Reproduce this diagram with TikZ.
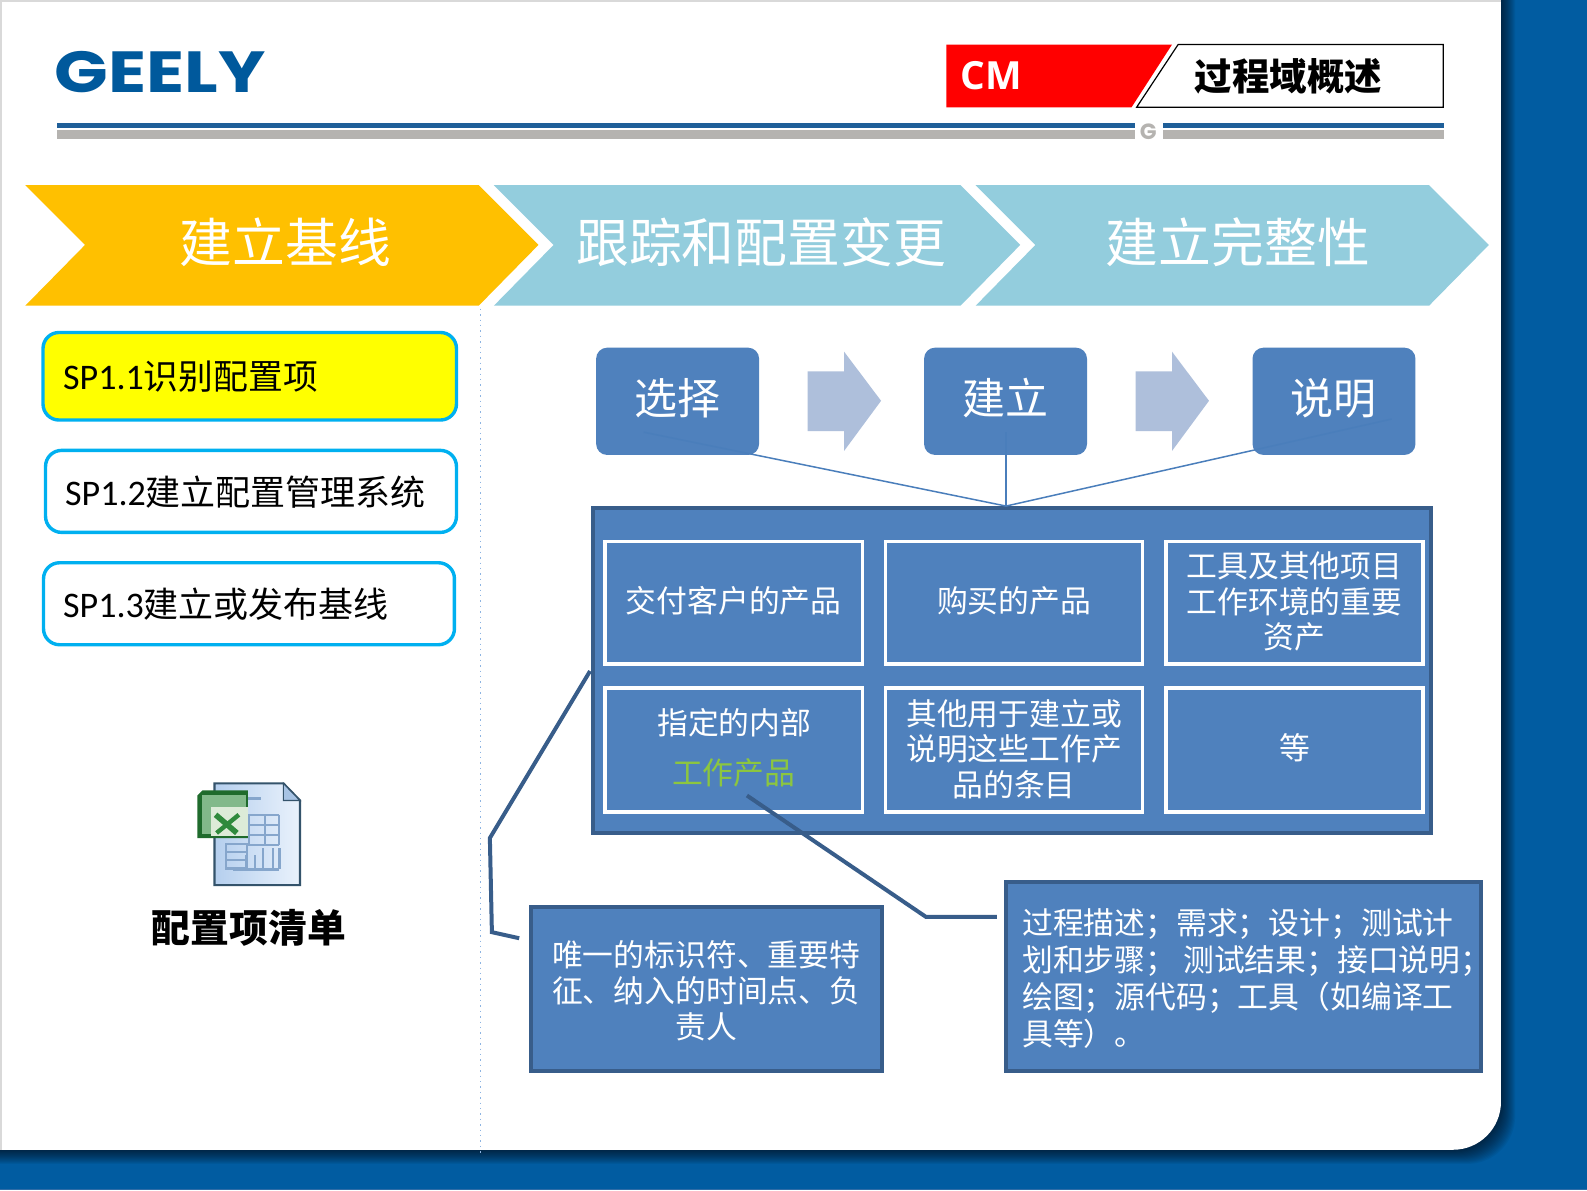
\documentclass[tikz,border=0pt]{standalone}
\usepackage{fontspec}
\setmainfont{Noto Sans CJK SC}
\newfontfamily\latinf{Carlito}
\newfontfamily\openf{Open Sans}
\newfontfamily\logof{Poppins}
\definecolor{bgblue}{HTML}{015CA1}
\definecolor{bgline}{HTML}{2F6CA6}
\definecolor{boxblue}{HTML}{4F81BD}
\definecolor{edgeblue}{HTML}{385D8A}
\definecolor{linkblue}{HTML}{4A7EBB}
\definecolor{chevblue}{HTML}{93CDDD}
\definecolor{chevgold}{HTML}{FFC000}
\definecolor{cyanedge}{HTML}{00B0F0}
\definecolor{greybar}{HTML}{B5B3B0}
\definecolor{rulebl}{HTML}{1F5F99}
\definecolor{logobl}{HTML}{00599C}
\definecolor{arrowbl}{HTML}{AEBFDB}
\definecolor{greentx}{HTML}{8CC63F}
\definecolor{frameg}{HTML}{D9D9D9}
\definecolor{dotbl}{HTML}{8DB4E2}
\definecolor{docedge}{HTML}{34536B}
\definecolor{docl}{HTML}{B5CFEE}
\definecolor{docr}{HTML}{EAF2FC}
\definecolor{gridbl}{HTML}{86A6CC}
\definecolor{xlgreen}{HTML}{2F8A3C}
\definecolor{xldark}{HTML}{1F6B2C}
\definecolor{xlpale}{HTML}{DDEBD8}
\definecolor{pureyellow}{HTML}{FFFF00}
\definecolor{purered}{HTML}{FF0000}
\newcommand\fz[2]{\fontsize{#1pt}{#2pt}\selectfont}
\newcommand\bx[7]{%
  \pgfmathsetmacro\bxw{(#4)-(#2)}\pgfmathsetmacro\bxh{(#5)-(#3)}%
  \pgfmathsetmacro\bxx{((#4)+(#2))/2}\pgfmathsetmacro\bxy{((#5)+(#3))/2}%
  \node[#6,minimum width=\bxw*0.506pt,minimum height=\bxh*0.506pt,inner sep=0pt,outer sep=0pt] (#1) at (\bxx,\bxy) {#7};}
\newcommand\lnl[1]{\makebox[221pt][l]{#1}}
\newcommand\upby[2]{\raisebox{#1}[\height][\depth]{#2}}
\tikzset{
  sptext/.style={anchor=west,inner sep=0pt,text=black},
  spbox/.style={draw=cyanedge,line width=1.7pt,rounded corners=8pt,fill=white},
  stepbox/.style={fill=boxblue,rounded corners=5.5pt,text=white,font=\fz{21.5}{26}},
  outerbox/.style={fill=boxblue,draw=edgeblue,line width=2pt},
  cellbox/.style={fill=boxblue,draw=white,line width=1.8pt,text=white,align=center,font=\fz{15.4}{17.9}},
  notebox/.style={fill=boxblue,draw=edgeblue,line width=2pt,text=white,align=center,font=\fz{15.4}{18.1}},
  calloutln/.style={draw=edgeblue,line width=2pt,line join=miter},
  linkln/.style={draw=linkblue,line width=.75pt},
  banner/.style={text=white,font=\fz{26.4}{30}},
  blockarrow/.style={fill=arrowbl},
}
\begin{document}
\begin{tikzpicture}[x=0.506pt,y=-0.506pt]
\useasboundingbox (0,0) rectangle (1568,1176);
% background
\fill[bgblue] (0,0) rectangle (1568,1176);
\fill[bgline] (0,1174.5) rectangle (1568,1176);
\begin{scope}
\clip (0,0) rectangle (1568,1176);
\foreach \i in {1,2,...,14}{
  \fill[black,opacity=.05,rounded corners=24pt] (-60,-60) rectangle (1483+\i,1136+\i);
}
\end{scope}
\fill[white,rounded corners=24pt] (-60,-60) rectangle (1483,1136);
\fill[frameg] (0,0) rectangle (1483,2);
\fill[frameg] (0,0) rectangle (1.5,1136);
% logo
\node[inner sep=0pt,text=logobl,font=\logof\bfseries\fz{29}{29},xscale=1.215] (logo) at (158.5,71.5) {GEELY};
% header rule
\fill[rulebl] (56,122) rectangle (1121,126);
\fill[greybar] (56,128) rectangle (1121,137);
\fill[rulebl] (1149,122) rectangle (1427,126);
\fill[greybar] (1149,128) rectangle (1427,137);
\node[inner sep=0pt,text=greybar,font=\logof\bfseries\fz{11}{11}] (glogo) at (1134.5,130) {G};
% title tab
\fill[purered] (935,44) -- (1158,44) -- (1118,106) -- (935,106) -- cycle;
\draw[black,line width=.6pt,fill=white] (1164,44) -- (1426,44) -- (1426,106) -- (1123,106) -- cycle;
\node[inner sep=0pt,text=white,font=\openf\bfseries\fz{19.4}{19}] (cm) at (979.5,75) {CM};
\node[inner sep=0pt,font=\bfseries\fz{18.7}{19}] (ttl) at (1273,75) {过程域概述};
% chevrons
\fill[chevgold] (25,183) -- (473,183) -- (532,242) -- (473,302) -- (25,302) -- (84,242) -- cycle;
\fill[chevblue] (488,183) -- (949,183) -- (1008,242) -- (949,302) -- (488,302) -- (547,242) -- cycle;
\fill[chevblue] (964,183) -- (1412,183) -- (1471,242) -- (1412,302) -- (964,302) -- (1023,242) -- cycle;
\node[banner] (b1) at (282,239) {建立基线};
\node[banner] (b2) at (752,239) {跟踪和配置变更};
\node[banner] (b3) at (1223,239) {建立完整性};
% divider
\coordinate (d1) at (475,305); \coordinate (d2) at (475,1140);
\draw[dotbl,line width=.7pt,dotted] (d1) -- (d2);
% left list
\bx{sp1}{42.5}{328.5}{451}{415}{spbox,fill=pureyellow}{}
\bx{sp2}{45}{445}{451}{526}{spbox}{}
\bx{sp3}{43}{556}{449}{637}{spbox}{}
\node[sptext] (sp1t) at (62,372) {{\latinf\fz{18}{20}SP1.1}{\fz{17.4}{20}识别配置项}};
\node[sptext] (sp2t) at (64,486) {{\latinf\fz{18}{20}SP1.2}{\fz{17.5}{20}建立配置管理系统}};
\node[sptext] (sp3t) at (62,597) {{\latinf\fz{18}{20}SP1.3}{\fz{17.5}{20}建立或发布基线}};
% excel icon
\shade[left color=docl,right color=docr,draw=docedge,line width=1.1pt] (212,774) -- (280,774) -- (296.5,791) -- (296.5,874.5) -- (212,874.5) -- cycle;
\fill[docl!70!gridbl,draw=docedge,line width=.6pt] (280,774) -- (296.5,791) -- (280,791) -- cycle;
\draw[gridbl,line width=1.1pt] (245,805) -- (276,805) (245,815) -- (276,815) (245,825) -- (276,825) (245,835) -- (276,835)
  (246,805) -- (246,835) (262,805) -- (262,835) (276,805) -- (276,835);
\draw[gridbl,line width=1.1pt] (223,834) rectangle (244,858) (223,842) -- (244,842) (223,850) -- (244,850);
\draw[gridbl,line width=1.2pt] (230,859) -- (276,859) (243,859) -- (243,845) (252,859) -- (252,845) (260,859) -- (260,838) (270,859) -- (270,838) (276,859) -- (276,838);
\draw[gridbl,line width=1.1pt] (245,789) -- (258,789);
\fill[xldark] (195,786) -- (200,781) -- (245,781) -- (245,828) -- (195,828) -- cycle;
\fill[xlgreen!60!white] (200,785) rectangle (243,824);
\fill[xlpale] (208,797) rectangle (245,826);
\draw[xlgreen,line width=2.8pt] (213,805) -- (234,823);
\draw[xlgreen,line width=2.2pt] (236,805) -- (214,823);
\node[inner sep=0pt,font=\bfseries\fz{19.4}{22},text=black] (xlt) at (246,917) {配置项清单};
% connectors behind text
\coordinate (hub) at (994,500);
\coordinate (c1) at (636,427); \coordinate (c2) at (994,427); \coordinate (c3) at (1375,414);
% steps
\bx{s1}{589}{343.5}{750}{449.5}{stepbox}{\upby{1.5pt}{选择}}
\bx{s2}{913}{343.5}{1074}{449.5}{stepbox}{\upby{1.5pt}{建立}}
\bx{s3}{1237.5}{343.5}{1398.5}{449.5}{stepbox}{\upby{1.5pt}{说明}}
\fill[blockarrow] (798,367) -- (834,367) -- (834,347.5) -- (870.5,396) -- (834,445.5) -- (834,426) -- (798,426) -- cycle;
\fill[blockarrow] (1122,367) -- (1158,367) -- (1158,347.5) -- (1194.5,396) -- (1158,445.5) -- (1158,426) -- (1122,426) -- cycle;
% outer box
\bx{outer}{586}{502}{1414}{823}{outerbox}{}
\draw[linkln] (c1) -- (hub);
\draw[linkln] (c2) -- (hub);
\draw[linkln] (c3) -- (hub);
% cells
\bx{a1}{598}{535}{852}{656}{cellbox}{\upby{1pt}{交付客户的产品}}
\bx{a2}{875}{535}{1129}{656}{cellbox}{\upby{1pt}{购买的产品}}
\bx{a3}{1152}{535}{1406}{656}{cellbox}{\upby{.5pt}{\shortstack{工具及其他项目\\[.55pt]工作环境的重要\\[.55pt]资产}}}
\bx{b4}{598}{680}{852}{802}{cellbox}{}
\node[inner sep=0pt,text=white,font=\fz{15.4}{18}] (b4a) at (725.5,714) {指定的内部};
\node[inner sep=0pt,text=greentx,font=\fz{15.4}{18}] (b4b) at (725,764) {工作产品};
\bx{b5}{875}{680}{1129}{802}{cellbox}{\upby{.5pt}{\shortstack{其他用于建立或\\[.55pt]说明这些工作产\\[.55pt]品的条目}}}
\bx{b6}{1152}{680}{1406}{802}{cellbox}{\upby{1pt}{等}}
% notes
\bx{n1}{524.5}{896.5}{871}{1058}{notebox}{\upby{-1pt}{\shortstack{唯一的标识符、重要特\\[.8pt]征、纳入的时间点、负\\[.8pt]责人}}}
\bx{n2}{993.5}{871}{1463.5}{1058}{notebox}{\upby{-1.4pt}{\shortstack[l]{\lnl{过程描述；需求；设计；测试计}\\[-.1pt]\lnl{划和步骤； 测试结果；接口说明；}\\[-.1pt]\lnl{绘图；源代码；工具（如编译工}\\[-.1pt]\lnl{具等）。}}}}
% callout lines
\coordinate (p1) at (583,663); \coordinate (p2) at (484,828); \coordinate (p3) at (486,921); \coordinate (p4) at (513,927);
\draw[calloutln] (p1) -- (p2) -- (p3) -- (p4);
\coordinate (q1) at (738,786); \coordinate (q2) at (915,906); \coordinate (q3) at (985,906);
\draw[calloutln] (q1) -- (q2) -- (q3);
\end{tikzpicture}
\end{document}
